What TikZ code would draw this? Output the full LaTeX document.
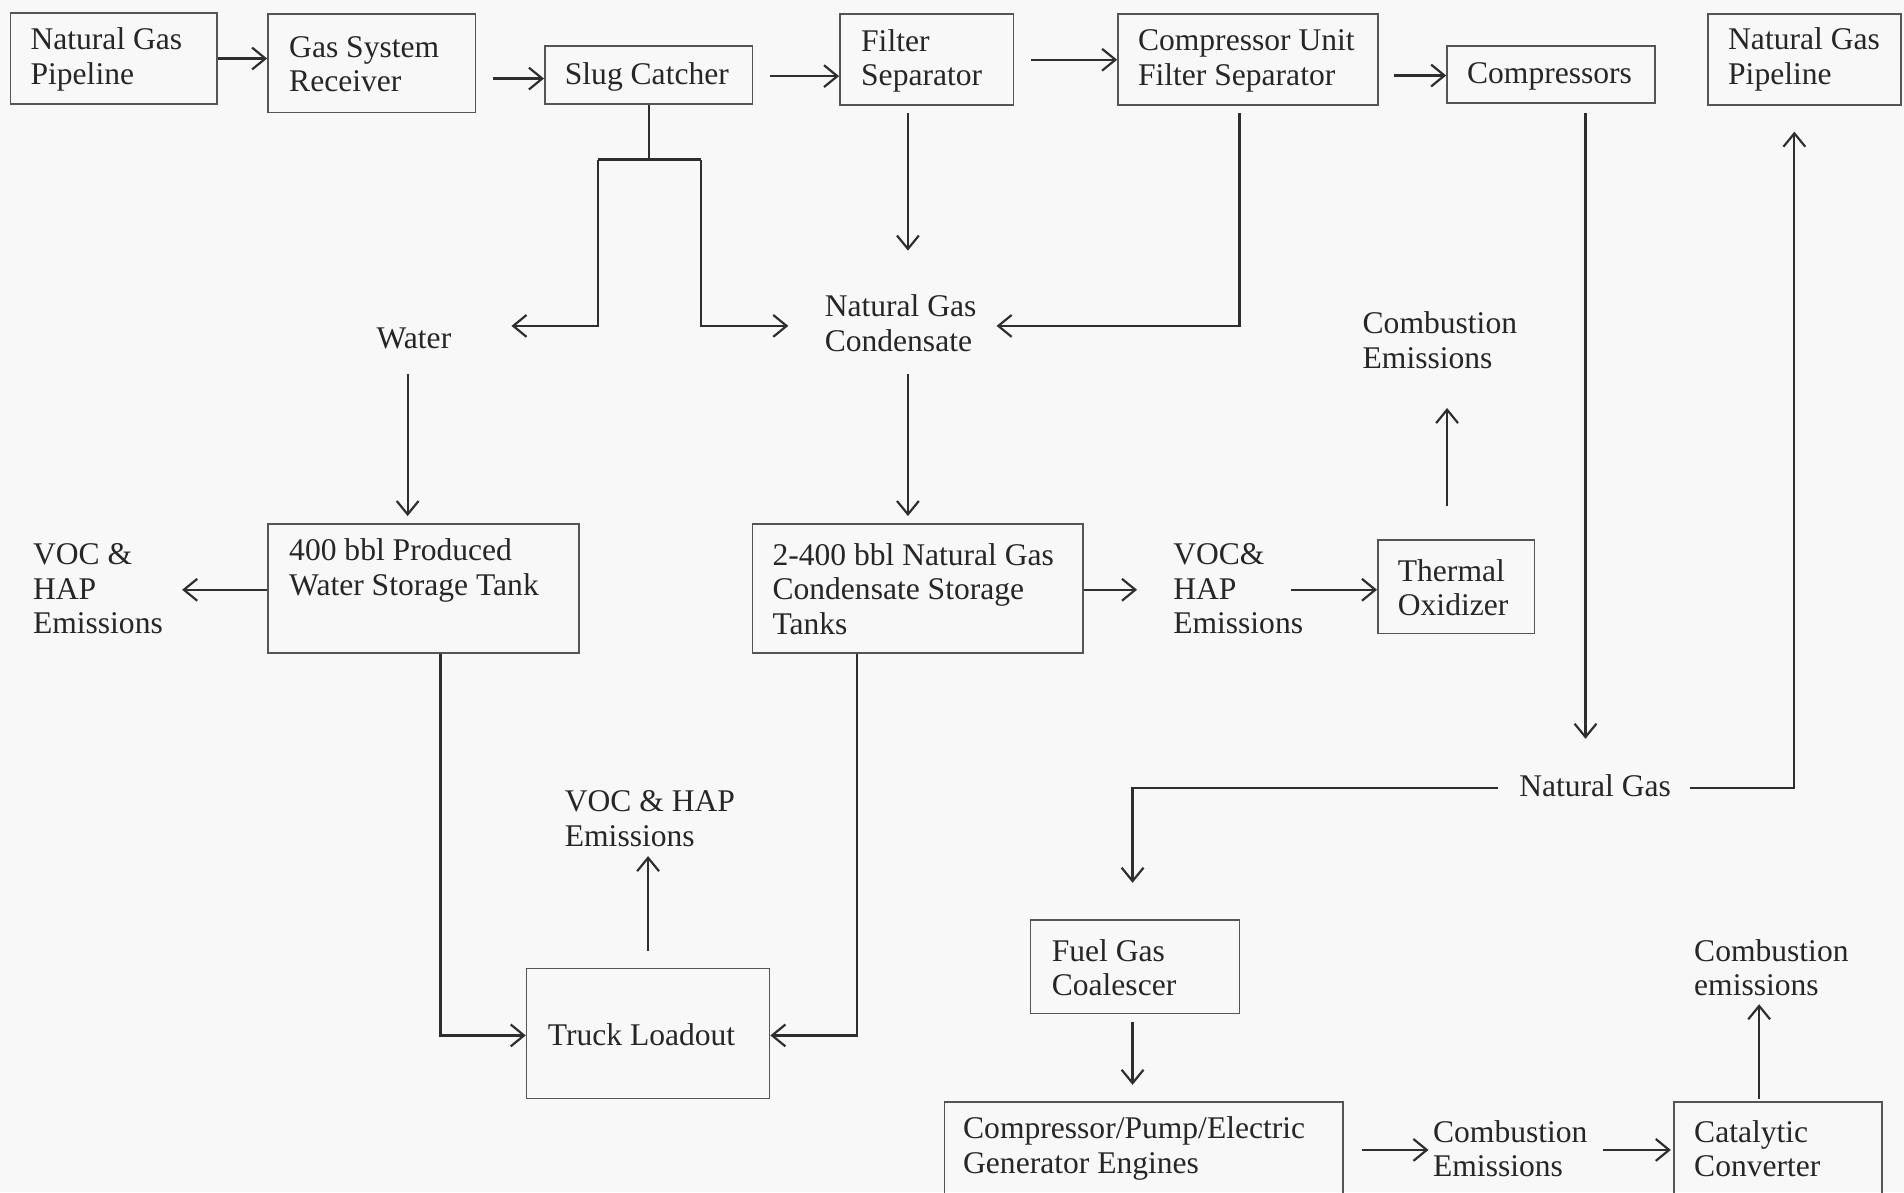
\documentclass[tikz,border=0pt]{standalone}
\usepackage{fontspec}
\setmainfont{Liberation Serif}
\usetikzlibrary{arrows.meta,calc}
\definecolor{lnc}{HTML}{2E2E2E}
\definecolor{bxc}{HTML}{555555}
\definecolor{bgc}{HTML}{F8F8F8}
\definecolor{txc}{HTML}{262626}
\begin{document}
\begin{tikzpicture}[x=1pt,y=-1pt,
  box/.style={draw=bxc, line width=1.4pt, anchor=north west, inner sep=0pt},
  txt/.style={anchor=west, align=left, inner sep=0pt, yshift=-2pt, font=\fontsize{26}{28.5}\selectfont, text=txc},
  arr/.style={draw=lnc, line width=1.8pt, -{Straight Barb[length=11pt,width=18pt,line width=1.8pt]}},
  lnk/.style={draw=lnc, line width=1.8pt}]
\fill[bgc] (0,0) rectangle (1568,982);
\useasboundingbox (0,0) rectangle (1568,982);
% boxes
\node[box, minimum width=170, minimum height=75] (ngp1) at (8,10) {};
\node[box, minimum width=171, minimum height=81] (gsr) at (220,11) {};
\node[box, minimum width=171, minimum height=48] (slug) at (448,37) {};
\node[box, minimum width=143, minimum height=75] (fs) at (691,11) {};
\node[box, minimum width=214, minimum height=75] (cufs) at (920,11) {};
\node[box, minimum width=171, minimum height=47] (comp) at (1191,37) {};
\node[box, minimum width=159, minimum height=75] (ngp2) at (1406,11) {};
\node[box, minimum width=256, minimum height=106] (pw) at (220,431) {};
\node[box, minimum width=272, minimum height=106] (ct) at (619,431) {};
\node[box, minimum width=129, minimum height=77] (to) at (1134,444) {};
\node[box, minimum width=200, minimum height=107] (tl) at (433,797) {};
\node[box, minimum width=172, minimum height=77] (fgc) at (848,757) {};
\node[box, minimum width=328, minimum height=100] (eng) at (777,907) {};
\node[box, minimum width=171, minimum height=100] (cc) at (1378,907) {};
% texts
\node[txt] (ngp1t) at (25,47) {Natural Gas\\Pipeline};
\node[txt] (gsrt) at (238,51) {Gas System\\Receiver};
\node[txt] (slugt) at (465,61) {Slug Catcher};
\node[txt] (fst) at (709,48) {Filter\\Separator};
\node[txt] (cufst) at (937,48) {Compressor Unit\\Filter Separator};
\node[txt] (compt) at (1208,61) {Compressors};
\node[txt] (ngp2t) at (1423,47) {Natural Gas\\Pipeline};
\node[txt] (water) at (310,277) {Water};
\node[txt] (ngc) at (679,264) {Natural Gas\\Condensate};
\node[txt] (pwt) at (238,468) {400 bbl Produced\\Water Storage Tank};
\node[txt] (voc1) at (27,483) {VOC \&\\HAP\\Emissions};
\node[txt] (ctt) at (636,483) {2-400 bbl Natural Gas\\Condensate Storage\\Tanks};
\node[txt] (voc2) at (966,483) {VOC\&\\HAP\\Emissions};
\node[txt] (tot) at (1151,482) {Thermal\\Oxidizer};
\node[txt] (ce1) at (1122,278) {Combustion\\Emissions};
\node[txt] (ng) at (1251,645) {Natural Gas};
\node[txt] (tlt) at (451,850) {Truck Loadout};
\node[txt] (voc3) at (465,672) {VOC \& HAP\\Emissions};
\node[txt] (fgct) at (866,795) {Fuel Gas\\Coalescer};
\node[txt] (engt) at (793,944) {Compressor/Pump/Electric\\Generator Engines};
\node[txt] (ce2) at (1180,944) {Combustion\\Emissions};
\node[txt] (cct) at (1395,944) {Catalytic\\Converter};
\node[txt] (ce3) at (1395,795) {Combustion\\emissions};
% top row connectors
\draw[arr] (ngp1.east) -- (ngp1.east -| gsr.west);
\draw[arr] ($(slug.west)+(-42,3)$) -- ($(slug.west)+(0,3)$);
\draw[arr] ($(slug.east)+(14,1)$) -- ($(slug.east -| fs.west)+(0,1)$);
\draw[arr] ($(fs.east)+(14,0)$) -- (fs.east -| cufs.west);
\draw[arr] ($(comp.west)+(-43,1)$) -- ($(comp.west)+(0,1)$);
% slug catcher split
\draw[lnk] (slug.south) -- ++(0,45) coordinate (sj);
\draw[lnk] ($(sj)+(-42,0)$) -- ($(sj)+(43,0)$);
\draw[arr] ($(sj)+(-42,0)$) -- ++(0,137) -- ++(-71,0);
\draw[arr] ($(sj)+(43,0)$) -- ++(0,137) -- ++(72,0);
% to condensate
\draw[arr] ($(fs.south)+(-15.5,6)$) -- ++(0,113);
\draw[arr] ($(cufs.south)+(-7,6)$) -- ++(0,175) -- ++(-200,0);
% down to tanks
\draw[arr] ($(pw.north)+(-13,-123)$) -- ($(pw.north)+(-13,-6)$);
\draw[arr] ($(ct.north)+(-8,-123)$) -- ($(ct.north)+(-8,-6)$);
% emissions from tanks
\draw[arr] ($(pw.west)+(0,1)$) -- ++(-70,0);
\draw[arr] ($(ct.east)+(0,1)$) -- ++(44,0);
\draw[arr] ($(to.west)+(-71,2.5)$) -- ($(to.west)+(0,2.5)$);
\draw[arr] ($(to.north)+(-7.5,-27)$) -- ++(0,-81);
% truck loadout
\draw[arr] ($(pw.south)+(14,0)$) |- ($(tl.west)+(0,1.5)$);
\draw[arr] ($(ct.south)+(-50,0)$) |- ($(tl.east)+(0,1.5)$);
\draw[arr] ($(tl.north)+(0,-14)$) -- ++(0,-78);
% natural gas
\draw[arr] ($(comp.south)+(28.5,8)$) -- ++(0,515);
\draw[arr] ($(ng.center)+(78,2)$) -| ($(ngp2.south)+(-8.5,21)$);
\draw[arr] ($(ng.center)+(-80,2)$) -| ($(fgc.north)+(-2,-30)$);
\draw[arr] ($(fgc.south)+(-2,6)$) -- ($(fgc.south)+(-2,58)$);
\draw[arr] ($(eng.north east)+(15,40)$) -- ++(55,0);
\draw[arr] ($(cc.north west)+(-58,40)$) -- ($(cc.north west)+(-2,40)$);
\draw[arr] ($(cc.north)+(-15.5,-2)$) -- ++(0,-78);
\end{tikzpicture}
\end{document}
